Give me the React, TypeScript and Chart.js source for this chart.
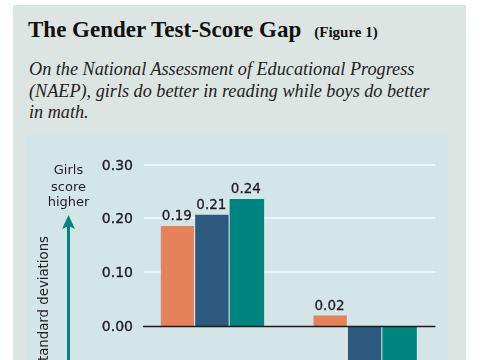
import React, { useEffect, useRef } from 'react';
import { Chart, registerables } from 'chart.js';

Chart.register(...registerables);

// ---- data ----
const categories = ['Reading', 'Math'];
const seriesNames = ['Age 9', 'Age 13', 'Age 17'];
const age9 = [0.186, 0.02];
const age13 = [0.207, -0.08];
const age17 = [0.236, -0.08];
const yTicks = [0, 0.1, 0.2, 0.3];
const yMax = 0.3;
const yMin = -0.063;

const barColors = ['#e4835a', '#2c5a7f', '#00847f'];
const SANS = '"DejaVu Sans", sans-serif';
const SERIF = '"Liberation Serif", serif';

const decorPlugin = {
  id: 'decor',
  beforeDatasetsDraw(chart: any) {
    const { ctx, chartArea, scales } = chart;
    const y = scales.y;
    ctx.save();
    ctx.strokeStyle = '#eef5f7';
    ctx.lineWidth = 2;
    yTicks.forEach((v) => {
      if (v === 0) return;
      const py = Math.round(y.getPixelForValue(v));
      ctx.beginPath();
      ctx.moveTo(chartArea.left + 8, py);
      ctx.lineTo(chartArea.right - 6, py);
      ctx.stroke();
    });
    // tick labels
    ctx.fillStyle = '#1e1e1e';
    ctx.strokeStyle = '#1e1e1e';
    ctx.lineWidth = 0.35;
    ctx.font = `14px ${SANS}`;
    ctx.textAlign = 'right';
    ctx.textBaseline = 'middle';
    yTicks.forEach((v) => {
      const py = y.getPixelForValue(v);
      ctx.fillText(v.toFixed(2), chartArea.left - 3, py + 1.5);
      ctx.strokeText(v.toFixed(2), chartArea.left - 3, py + 1.5);
    });
    ctx.restore();
  },
  afterDatasetsDraw(chart: any) {
    const { ctx, chartArea, scales } = chart;
    const y = scales.y;
    ctx.save();
    // zero line
    const zy = Math.round(y.getPixelForValue(0)) + 0.5;
    ctx.strokeStyle = '#1a1a1a';
    ctx.lineWidth = 1.6;
    ctx.beginPath();
    ctx.moveTo(chartArea.left + 7, zy);
    ctx.lineTo(chartArea.right - 6, zy);
    ctx.stroke();

    // value labels
    ctx.fillStyle = '#1e1e1e';
    ctx.strokeStyle = '#1e1e1e';
    ctx.lineWidth = 0.3;
    ctx.font = `13.5px ${SANS}`;
    ctx.textAlign = 'center';
    ctx.textBaseline = 'middle';
    chart.data.datasets.forEach((ds: any, di: number) => {
      const meta = chart.getDatasetMeta(di);
      meta.data.forEach((bar: any, i: number) => {
        const v = ds.data[i];
        if (v > 0) {
          ctx.fillText(v.toFixed(2), bar.x - 1, bar.y - 9);
          ctx.strokeText(v.toFixed(2), bar.x - 1, bar.y - 9);
        }
      });
    });

    // left annotation
    const ax = 42.5;
    ctx.font = `13px ${SANS}`;
    ctx.fillStyle = '#1e1e1e';
    ctx.fillText('Girls', ax, 36);
    ctx.fillText('score', ax, 52.5);
    ctx.fillText('higher', ax, 68);

    ctx.strokeStyle = '#00857f';
    ctx.fillStyle = '#00857f';
    ctx.lineWidth = 3;
    ctx.beginPath();
    ctx.moveTo(ax, 90);
    ctx.lineTo(ax, chart.height + 10);
    ctx.stroke();
    ctx.beginPath();
    ctx.moveTo(ax, 80);
    ctx.lineTo(ax + 6.5, 94);
    ctx.lineTo(ax, 91);
    ctx.lineTo(ax - 6.5, 94);
    ctx.closePath();
    ctx.fill();

    ctx.translate(19, 101);
    ctx.rotate(-Math.PI / 2);
    ctx.fillStyle = '#1e1e1e';
    ctx.font = `13.3px ${SANS}`;
    ctx.textAlign = 'right';
    ctx.textBaseline = 'middle';
    ctx.fillText('Standard deviations', 0, 0);
    ctx.restore();
  },
};

function App() {
  const ref = useRef<HTMLCanvasElement | null>(null);

  useEffect(() => {
    if (!ref.current) return;
    const chart = new Chart(ref.current, {
      type: 'bar',
      data: {
        labels: categories,
        datasets: [age9, age13, age17].map((d, i) => ({
          label: seriesNames[i],
          data: d,
          backgroundColor: barColors[i],
          borderColor: 'rgba(225,238,240,0.7)',
          borderWidth: i < 2 ? { right: 1, left: 0, top: 0, bottom: 0 } : 0,
          borderSkipped: false,
          barPercentage: 1,
          categoryPercentage: 0.678,
        })),
      },
      options: {
        responsive: false,
        maintainAspectRatio: false,
        animation: false,
        layout: { padding: { top: 29.5, right: 6.6, bottom: 0, left: 0 } },
        plugins: {
          legend: { display: false },
          tooltip: { enabled: false },
          title: { display: false },
        },
        scales: {
          x: { display: false },
          y: {
            min: yMin,
            max: yMax,
            afterBuildTicks: (axis: any) => {
              axis.ticks = yTicks.map((v) => ({ value: v }));
            },
            afterFit: (scale: any) => {
              scale.width = 110;
            },
            grid: { display: false, drawTicks: false },
            border: { display: false },
            ticks: { display: false },
          },
        },
      },
      plugins: [decorPlugin],
    });
    return () => chart.destroy();
  }, []);

  return (
    <div
      style={{
        position: 'fixed',
        left: 0,
        top: 0,
        width: 485,
        height: 360,
        overflow: 'hidden',
        background: '#ffffff',
      }}
    >
      <div
        style={{
          position: 'absolute',
          left: 13,
          top: 5,
          width: 453,
          height: 400,
          background: '#dde5e2',
        }}
      />
      <div
        style={{
          position: 'absolute',
          left: 28,
          top: 18,
          fontFamily: SERIF,
          fontWeight: 'bold',
          fontSize: 23,
          lineHeight: '23px',
          color: '#111',
          whiteSpace: 'nowrap',
        }}
      >
        The Gender Test-Score Gap
        <span style={{ fontSize: 15, marginLeft: 13 }}>(Figure 1)</span>
      </div>
      <div
        style={{
          position: 'absolute',
          left: 29,
          top: 59,
          fontFamily: SERIF,
          fontStyle: 'italic',
          fontSize: 18.2,
          lineHeight: '21.5px',
          color: '#222',
          whiteSpace: 'nowrap',
        }}
      >
        On the National Assessment of Educational Progress
        <br />
        (NAEP), girls do better in reading while boys do better
        <br />
        in math.
      </div>
      <div
        style={{
          position: 'absolute',
          left: 26,
          top: 135,
          width: 422,
          height: 300,
          background: '#d4e5e8',
        }}
      >
        <canvas
          ref={ref}
          width={422}
          height={225}
          style={{ display: 'block', width: 422, height: 225 }}
        />
      </div>
    </div>
  );
}

export default App;
